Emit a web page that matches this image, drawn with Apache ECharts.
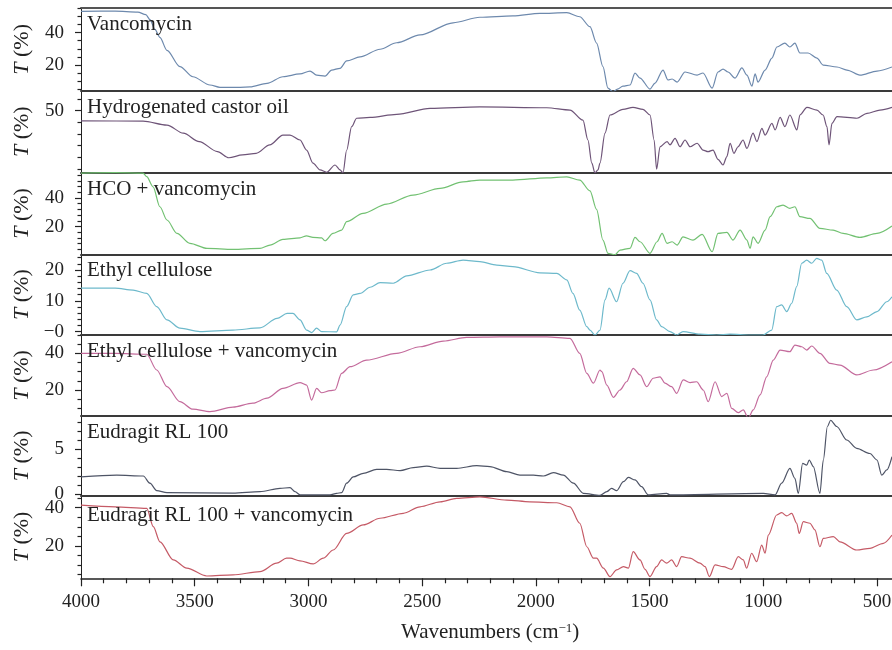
<!DOCTYPE html>
<html><head><meta charset="utf-8">
<script src="https://cdn.jsdelivr.net/npm/echarts@6/dist/echarts.min.js"></script>
<style>html,body{margin:0;padding:0;background:#fff}#c{width:892px;height:650px}</style>
</head><body><div id="c"></div>
<script>
// ---------- data (wavenumber cm-1, transmittance %) ----------
const panelNames = ['Vancomycin','Hydrogenated castor oil','HCO + vancomycin','Ethyl cellulose','Ethyl cellulose + vancomycin','Eudragit RL 100','Eudragit RL 100 + vancomycin'];

const vancomycin = [[4000,53],[3850,53.2],[3750,52.6],[3715,51],[3697,48],[3675,42],[3653,37],[3622,29],[3565,19],[3508,12.8],[3433,7.7],[3389,6.3],[3300,6.3],[3257,6.5],[3182,8.7],[3112,12.8],[3037,14.5],[2993,16.3],[2964,13.8],[2927,13.2],[2898,16.9],[2861,18],[2832,22.5],[2773,25],[2685,29.7],[2612,33.7],[2509,38.5],[2364,46],[2246,49.4],[2101,50.3],[1982,51.8],[1864,52.2],[1807,49.7],[1762,43.6],[1733,33.5],[1705,19],[1683,5.8],[1661,3.5],[1641,5.2],[1617,7],[1586,7.7],[1564,15],[1542,12],[1498,5.2],[1476,8.9],[1441,16.9],[1419,10.8],[1401,11.4],[1379,9.5],[1344,15.7],[1291,13.8],[1265,15.1],[1225,5.8],[1199,15.7],[1177,17.5],[1155,15.7],[1124,12],[1094,18.2],[1072,13.8],[1050,7],[1036,14.5],[1023,9.5],[992,16.9],[962,24.3],[940,31.1],[905,33.5],[883,31.1],[861,33.5],[839,27.4],[803,27.4],[764,24.3],[737,20],[676,18.8],[632,16.9],[575,13.8],[500,16.3],[434,18.8]];

const hco = [[4000,45.6],[3727,45.5],[3622,43.8],[3550,40.3],[3480,36.7],[3400,32.4],[3350,29.8],[3290,31],[3230,31.7],[3170,35.3],[3112,39.5],[3081,39.5],[3037,37.4],[3008,33.1],[2980,27.5],[2949,24.6],[2920,23.6],[2883,26.7],[2861,24.6],[2848,23.4],[2832,33],[2810,43.1],[2788,46.7],[2729,47.1],[2612,48.4],[2465,50.9],[2246,51.6],[1952,51.2],[1850,50.2],[1793,45.9],[1771,37.4],[1754,27.5],[1740,23.3],[1727,24.6],[1718,27.5],[1696,40.3],[1674,48.1],[1617,50.5],[1573,51.4],[1529,50.5],[1498,48.1],[1480,37.4],[1469,24.9],[1454,34.5],[1423,36.7],[1410,35.3],[1388,38.1],[1366,34.5],[1344,37.4],[1322,34.5],[1291,36],[1265,33.1],[1243,32.4],[1221,33.1],[1199,29.1],[1177,26.7],[1160,30.3],[1146,36],[1129,31.7],[1111,34.5],[1089,37.4],[1072,33.8],[1045,40.3],[1028,36.7],[1006,42.4],[992,39.5],[962,44.5],[948,41.7],[926,47.1],[905,43.1],[883,48.1],[852,41.7],[839,48.1],[808,51.4],[764,50.2],[737,48.1],[720,43.1],[711,35.3],[698,44.5],[676,47.4],[588,46.7],[544,48.8],[487,50.2],[434,51.4]];

const hcoVanc = [[4000,57.5],[3850,57.8],[3727,57.5],[3711,55],[3683,47.9],[3653,33.9],[3622,24.6],[3578,15.2],[3521,8.2],[3446,4.7],[3332,4],[3213,4.7],[3169,7],[3112,11],[3037,12.1],[3008,13.5],[2980,12.4],[2942,12.1],[2927,10],[2892,15.2],[2854,17.5],[2832,23.4],[2760,29.3],[2656,35.8],[2540,42.1],[2421,46.8],[2320,51.4],[2246,52.6],[2101,52.6],[1952,54.2],[1864,54.9],[1807,52.6],[1762,45],[1733,32],[1705,10.5],[1683,1.2],[1652,0.2],[1630,3.5],[1586,4.7],[1564,12.4],[1542,9.3],[1498,1.2],[1467,9.3],[1445,15.2],[1423,8.2],[1401,9.3],[1379,7],[1353,12.8],[1309,10.5],[1269,14.5],[1225,2.3],[1199,15.2],[1160,15.9],[1133,10.5],[1102,17.5],[1072,10.5],[1058,4.7],[1045,12.8],[1023,8.2],[992,17.5],[970,26.9],[940,33.9],[913,35.1],[883,32.8],[861,33.9],[839,26.9],[795,25.7],[751,18.7],[693,17.5],[649,15.2],[575,12.4],[500,15.2],[434,20.4]];

const ethylCellulose = [[4000,14.1],[3850,14.1],[3771,13.5],[3711,12.4],[3667,8.1],[3622,3.8],[3565,1.1],[3477,0],[3332,0.5],[3213,1.2],[3138,4.3],[3094,5.9],[3068,5.9],[3037,3.8],[3008,0.5],[2986,-0.3],[2964,1.1],[2942,0],[2876,-0.1],[2861,2.1],[2832,8.1],[2803,11.9],[2773,12.4],[2729,14.4],[2685,15.9],[2627,15.7],[2568,18.1],[2465,20],[2392,22.2],[2320,23.2],[2246,22.7],[2172,21.6],[2101,21.1],[1982,19.1],[1908,18.9],[1864,16.8],[1837,12.4],[1807,7],[1776,1.6],[1762,0.5],[1740,-1.1],[1718,0.5],[1696,10.3],[1678,14.1],[1645,9.7],[1617,15.7],[1586,19.8],[1557,18.9],[1529,15.7],[1498,10.3],[1469,3.8],[1447,1.6],[1410,0],[1381,-1.1],[1353,0],[1278,-0.8],[1205,-1.1],[1146,-0.8],[1058,-1.1],[1001,-1.1],[963,0.5],[941,8.1],[919,8.7],[897,6.5],[875,9.2],[853,14.6],[831,22.2],[809,23.2],[787,22.2],[765,23.8],[743,23.2],[721,18.9],[677,13.5],[633,8.1],[589,3.8],[545,4.8],[500,6.5],[457,9.7],[434,11.3]];

const ecVanc = [[4000,40],[3850,40],[3711,39.5],[3667,30.9],[3622,21.8],[3565,13.6],[3508,9.5],[3433,8.2],[3332,10.6],[3244,12.8],[3182,15.5],[3112,20.9],[3037,24],[3008,22.7],[2986,14.5],[2964,20.9],[2942,18.5],[2905,19.6],[2883,20],[2854,29.1],[2817,32.7],[2744,36.3],[2612,40],[2509,43.6],[2407,46.7],[2304,48.7],[2158,49],[1952,49],[1850,48.2],[1807,40],[1776,29.1],[1747,23.7],[1718,30.9],[1710,30],[1688,22.7],[1659,16],[1630,20],[1601,24.5],[1572,31.8],[1542,28.2],[1513,21.8],[1484,26.4],[1454,27.2],[1432,23.7],[1403,21.8],[1381,18.2],[1352,25.5],[1322,24],[1293,24.5],[1264,20],[1242,13.6],[1212,24.5],[1183,16.4],[1160,18.2],[1139,10],[1110,7.6],[1088,9.1],[1066,4.6],[1044,9.1],[1014,17.3],[985,27.2],[956,36.3],[926,41.8],[883,40.9],[861,44.5],[831,43.6],[809,41.8],[787,44],[751,40],[707,34.5],[663,33.6],[589,28.2],[516,30.9],[434,35.4]];

const eudragit = [[4000,1.9],[3843,2.1],[3726,2],[3697,1.2],[3667,0.37],[3622,0.15],[3332,0.1],[3213,0.26],[3125,0.63],[3081,0.7],[3059,0.26],[3037,-0.1],[2905,-0.1],[2876,0.07],[2854,0.15],[2832,1.2],[2803,1.9],[2759,2.3],[2700,2.74],[2656,2.74],[2597,2.6],[2539,2.93],[2480,3.1],[2421,2.85],[2348,2.85],[2260,3.15],[2202,3.04],[2128,2.48],[2070,2.1],[2011,2.1],[1967,2],[1923,2.37],[1879,2.1],[1835,1.2],[1791,0.07],[1718,-0.15],[1688,0.26],[1667,0.63],[1645,0.37],[1615,1.37],[1593,1.85],[1564,1.56],[1535,0.82],[1506,-0.1],[1425,0.07],[1410,-0.1],[1000,0.07],[948,-0.1],[919,1.2],[883,2.85],[861,1.74],[846,0.07],[827,3.4],[809,3.2],[798,3.78],[780,3.04],[751,0.07],[736,3.78],[718,7.5],[704,8.2],[677,7.5],[633,6],[589,5.07],[531,4.5],[500,3.78],[479,2.1],[457,2.67],[434,4.15]];

const eudVanc = [[4000,41.4],[3850,40.5],[3711,39.7],[3682,30.1],[3653,22.2],[3594,12.7],[3535,8.4],[3447,4.3],[3332,4.9],[3213,6.6],[3140,11],[3096,13.6],[3081,13.6],[3037,12.2],[2979,10.6],[2935,13.6],[2891,17.9],[2832,26.6],[2759,31],[2685,34.5],[2583,37.1],[2509,40.5],[2421,43.1],[2348,44.9],[2246,45.7],[2128,44],[2026,43.1],[1908,42.6],[1850,40.5],[1807,31.9],[1776,19.6],[1747,13.6],[1733,13.6],[1703,8.4],[1674,4],[1645,7.5],[1615,9.2],[1593,8.4],[1572,17],[1542,12.7],[1520,7.8],[1498,4],[1469,9.2],[1447,12.7],[1425,11],[1403,12.7],[1381,9.2],[1359,14.4],[1322,13.6],[1278,11],[1256,9.2],[1237,4],[1212,10.1],[1176,9.2],[1139,7.8],[1110,14.4],[1088,12.7],[1073,8.4],[1051,16.2],[1029,11.8],[1007,20.5],[992,16.2],[978,25.7],[941,36.2],[919,37.4],[897,35.7],[875,37.1],[853,31.9],[842,26.6],[824,32.7],[795,31.9],[773,28.4],[751,19.6],[736,24],[692,24.9],[663,22.2],[589,17.9],[531,18.8],[472,21.4],[434,25.7]];

const seriesData = [vancomycin, hco, hcoVanc, ethylCellulose, ecVanc, eudragit, eudVanc];

// axis ranges and tick values per panel
const xMin = 434, xMax = 4000;
const xMajorTicks = [500, 1000, 1500, 2000, 2500, 3000, 3500, 4000];
const xMinorTicks = [600,700,800,900,1100,1200,1300,1400,1600,1700,1800,1900,2100,2200,2300,2400,2600,2700,2800,2900,3100,3200,3300,3400,3600,3700,3800,3900];
const yMin = [4.2, 23.4, 0.5, -1.1, 5.8, -0.19, 3.1];
const yMax = [55.1, 58.5, 57.8, 25.1, 50, 8.67, 46.3];
const yMajorTicks = [[20,40],[50],[20,40],[0,10,20],[20,40],[0,5],[20,40]];
const yMinorTicks = [[5,10,15,25,30,35,45,50,55],[25,30,35,40,45,55],[4,8,12,16,24,28,32,36,44,48,52,56],[2,4,6,8,12,14,16,18,22,24],[10,15,25,30,35,45,50],[1,2,3,4,6,7,8],[5,10,15,25,30,35,45]];

// ---------- layout / style ----------
const colors = ['#6d89ad','#6e5478','#72c172','#6db9cb','#c46b9c','#4e5466','#c55a66'];
const panelEdges = [8, 90.7, 172.7, 254.3, 335, 416, 495.7, 578.3];
const FONT = 'Liberation Serif';
const plotLeft = 81, plotWidth = 811;

const grids = [], xAxes = [], yAxes = [], series = [], titles = [];
for (let i = 0; i < 7; i++) {
  const top = panelEdges[i], h = panelEdges[i + 1] - panelEdges[i];
  grids.push({left: plotLeft, width: plotWidth, top: top, height: h, containLabel: false, outerBoundsMode: 'none'});
  const last = i === 6;
  xAxes.push({
    type: 'value', gridIndex: i, min: xMin, max: xMax, inverse: true, position: 'bottom',
    axisLine: {show: true, onZero: false, lineStyle: {color: last ? '#222' : '#3a3a3a', width: last ? 1.5 : 2}},
    axisTick: {show: last, customValues: xMajorTicks, length: 8, lineStyle: {color: '#222', width: 1.2}},
    axisLabel: {show: last, customValues: xMajorTicks, margin: 14, color: '#222', fontFamily: FONT, fontSize: 19,
      formatter: v => String(v)},
    splitLine: {show: false}
  });
  const isEC = i === 3;
  yAxes.push({
    type: 'value', gridIndex: i, min: yMin[i], max: yMax[i], position: 'left',
    axisLine: {show: true, onZero: false, lineStyle: {color: '#222', width: 1}},
    axisTick: {show: true, customValues: yMajorTicks[i], length: 6, lineStyle: {color: '#222', width: 1.2}},
    axisLabel: {show: true, customValues: yMajorTicks[i], margin: 17, color: '#222', fontFamily: FONT, fontSize: 19,
      formatter: v => (isEC && v === 0) ? '\u22120' : String(v)},
    splitLine: {show: false},
    name: '{i|T} (%)', nameLocation: 'middle', nameRotate: 90, nameGap: 48,
    nameTextStyle: {fontFamily: FONT, fontSize: 22, color: '#222',
      rich: {i: {fontFamily: FONT, fontSize: 22, fontStyle: 'italic', color: '#222'}}}
  });
  // minor ticks: an axis on the opposite side shifted back onto the left edge
  yAxes.push({
    type: 'value', gridIndex: i, min: yMin[i], max: yMax[i], position: 'right', offset: -plotWidth,
    axisLine: {show: false},
    axisTick: {show: true, inside: true, customValues: yMinorTicks[i], length: 3.5, lineStyle: {color: '#222', width: 1.2}},
    axisLabel: {show: false}, splitLine: {show: false}
  });
  series.push({
    type: 'line', xAxisIndex: i, yAxisIndex: 2 * i, data: seriesData[i],
    showSymbol: false, smooth: 0.3, smoothMonotone: 'x',
    lineStyle: {color: colors[i], width: 1.2}, itemStyle: {color: colors[i]}, silent: true, clip: true
  });
  titles.push({text: panelNames[i], left: 87, top: top + (i === 6 ? 9 : 6), padding: 0,
    textStyle: {fontFamily: FONT, fontSize: 21, fontWeight: 'normal', color: '#222'}});
}
// minor ticks of the wavenumber axis
xAxes.push({type: 'value', gridIndex: 6, min: xMin, max: xMax, inverse: true, position: 'bottom',
  axisLine: {show: false}, axisTick: {show: true, customValues: xMinorTicks, length: 5, lineStyle: {color: '#222', width: 1.2}},
  axisLabel: {show: false}, splitLine: {show: false}});
// top frame line of first panel
xAxes.push({type: 'value', gridIndex: 0, min: xMin, max: xMax, inverse: true, position: 'top',
  axisLine: {show: true, lineStyle: {color: '#555', width: 2}}, axisTick: {show: false}, axisLabel: {show: false}, splitLine: {show: false}});
// x axis title
titles.push({text: 'Wavenumbers (cm{s|\u22121})', left: 401, top: 622, padding: 0,
  textStyle: {fontFamily: FONT, fontSize: 21, fontWeight: 'normal', color: '#222',
    rich: {s: {fontFamily: FONT, fontSize: 13, verticalAlign: 'top', lineHeight: 14, color: '#222'}}}});

const chart = echarts.init(document.getElementById('c'), null, {renderer: 'canvas'});
chart.setOption({animation: false, backgroundColor: '#fff', title: titles, grid: grids, xAxis: xAxes, yAxis: yAxes, series: series});
</script></body></html>
